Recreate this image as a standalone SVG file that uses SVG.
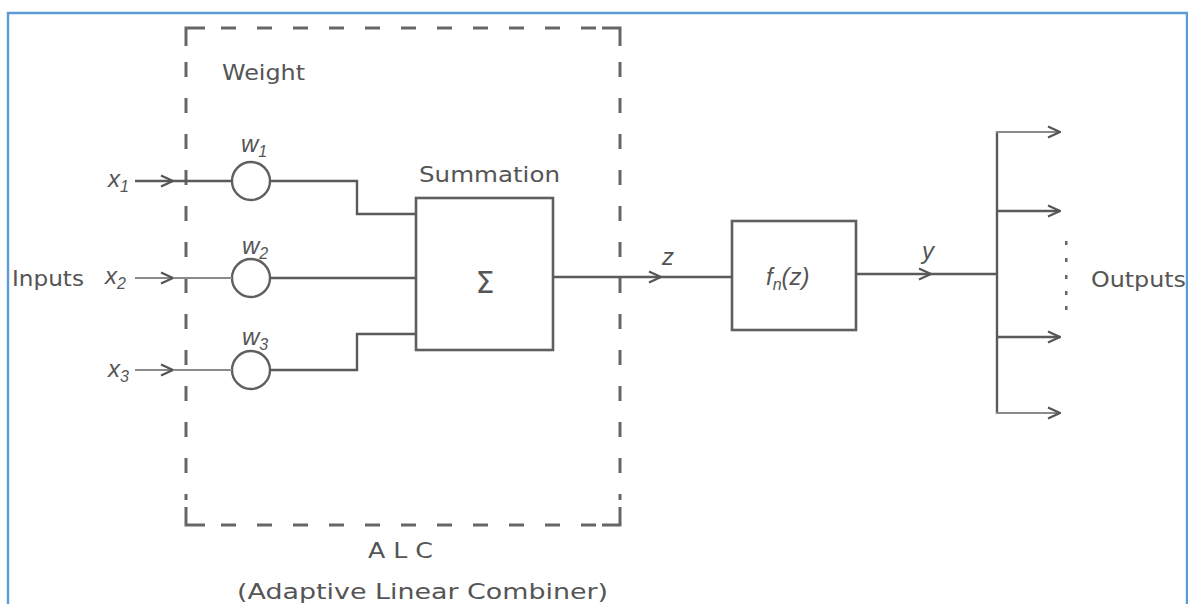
<svg xmlns="http://www.w3.org/2000/svg" width="1188" height="604" viewBox="0 0 1188 604">
<defs>
<marker id="arr" viewBox="0 0 14 14" markerWidth="14" markerHeight="14" refX="13" refY="7" orient="auto" markerUnits="userSpaceOnUse">
<path d="M1,1.5 L13,7 L1,12.5" fill="none" stroke="#555" stroke-width="2.2" stroke-linejoin="miter"/>
</marker>
</defs>
<style>
.ln{fill:none;stroke:#5a5a5a;stroke-width:2.4}
.lt{fill:none;stroke:#8a8a8a;stroke-width:2.2}
.dash{fill:none;stroke:#666;stroke-width:3;stroke-dasharray:15 21}
.cor{fill:none;stroke:#666;stroke-width:3}
.box{fill:none;stroke:#5f5f5f;stroke-width:2.6}
.circ{fill:#fff;stroke:#5f5f5f;stroke-width:2.4}
.t{font-family:"DejaVu Sans","Liberation Sans",sans-serif;fill:#555;font-size:22px}
.sig{font-size:30px}
.m{font-family:"Liberation Sans","DejaVu Sans",sans-serif;font-style:italic;fill:#555;font-size:24px}
.s{font-size:16px}
</style>
<rect width="1188" height="604" fill="#fff"/>
<path d="M8,606 V13 H1187 V606" fill="none" stroke="#5b9bd5" stroke-width="2.4"/>

<g id="alc-boundary">
<path class="cor" d="M186,46 V28 H205"/>
<path class="cor" d="M602,28 H620 V46"/>
<path class="cor" d="M186,507 V525 H205"/>
<path class="cor" d="M602,525 H620 V507"/>
<line class="dash" x1="221" y1="28" x2="600" y2="28"/>
<line class="dash" x1="221" y1="525" x2="600" y2="525"/>
<line class="dash" x1="186" y1="62" x2="186" y2="500"/>
<line class="dash" x1="620" y1="62" x2="620" y2="500"/>
<text class="t" x="222" y="80" textLength="83" lengthAdjust="spacingAndGlyphs">Weight</text>
<text class="t" x="368" y="558" textLength="65" lengthAdjust="spacingAndGlyphs">A L C</text>
<text class="t" x="237" y="599" textLength="371" lengthAdjust="spacingAndGlyphs">(Adaptive Linear Combiner)</text>
</g>

<g id="inputs">
<text class="t" x="12" y="286" textLength="72" lengthAdjust="spacingAndGlyphs">Inputs</text>
<text class="m" x="108" y="187">x<tspan class="s" dy="5">1</tspan></text>
<text class="m" x="105" y="284">x<tspan class="s" dy="5">2</tspan></text>
<text class="m" x="108" y="377">x<tspan class="s" dy="5">3</tspan></text>
</g>

<g id="w1">
<circle class="circ" cx="251" cy="181" r="19"/>
<text class="m" x="241" y="152">w<tspan class="s" dy="5">1</tspan></text>
</g>
<g id="w2">
<circle class="circ" cx="251" cy="278" r="19"/>
<text class="m" x="242" y="254">w<tspan class="s" dy="5">2</tspan></text>
</g>
<g id="w3">
<circle class="circ" cx="251" cy="370" r="19"/>
<text class="m" x="242" y="345">w<tspan class="s" dy="5">3</tspan></text>
</g>

<g id="summation">
<rect class="box" x="416" y="198" width="137" height="152"/>
<text class="t" x="419" y="182" textLength="141" lengthAdjust="spacingAndGlyphs">Summation</text>
<text class="t sig" x="485" y="293" text-anchor="middle">Σ</text>
</g>

<g id="activation">
<rect class="box" x="732" y="221" width="124" height="109"/>
<text class="m" x="766" y="285">f<tspan class="s" dy="5">n</tspan><tspan dy="-5">(z)</tspan></text>
</g>

<g id="outputs">
<text class="t" x="1091" y="287" textLength="95" lengthAdjust="spacingAndGlyphs">Outputs</text>
<g fill="#666">
<rect x="1065" y="241" width="2.5" height="4"/>
<rect x="1065" y="258" width="2.5" height="4"/>
<rect x="1065" y="275" width="2.5" height="4"/>
<rect x="1065" y="291" width="2.5" height="4"/>
<rect x="1065" y="306" width="2.5" height="4"/>
</g>
</g>

<g id="connectors">
<line class="ln" x1="135" y1="181" x2="173" y2="181" marker-end="url(#arr)"/>
<line class="ln" x1="173" y1="181" x2="232" y2="181"/>
<line class="lt" x1="135" y1="278" x2="173" y2="278" marker-end="url(#arr)"/>
<line class="lt" x1="173" y1="278" x2="232" y2="278"/>
<line class="lt" x1="135" y1="370" x2="173" y2="370" marker-end="url(#arr)"/>
<line class="lt" x1="173" y1="370" x2="232" y2="370"/>
<polyline class="ln" points="270,181 357,181 357,214 416,214"/>
<line class="ln" x1="270" y1="278" x2="416" y2="278"/>
<polyline class="ln" points="270,370 357,370 357,334 416,334"/>
<line class="ln" x1="553" y1="277" x2="661" y2="277" marker-end="url(#arr)"/>
<line class="ln" x1="661" y1="277" x2="732" y2="277"/>
<text class="m" x="662" y="265">z</text>
<line class="ln" x1="856" y1="274" x2="931" y2="274" marker-end="url(#arr)"/>
<line class="ln" x1="931" y1="274" x2="997" y2="274"/>
<text class="m" x="922" y="259">y</text>
<line class="ln" x1="997" y1="131" x2="997" y2="414"/>
<line class="lt" x1="996" y1="132" x2="1060" y2="132" marker-end="url(#arr)"/>
<line class="ln" x1="996" y1="211" x2="1060" y2="211" marker-end="url(#arr)"/>
<line class="ln" x1="996" y1="337" x2="1060" y2="337" marker-end="url(#arr)"/>
<line class="lt" x1="996" y1="413" x2="1060" y2="413" marker-end="url(#arr)"/>
</g>
</svg>
